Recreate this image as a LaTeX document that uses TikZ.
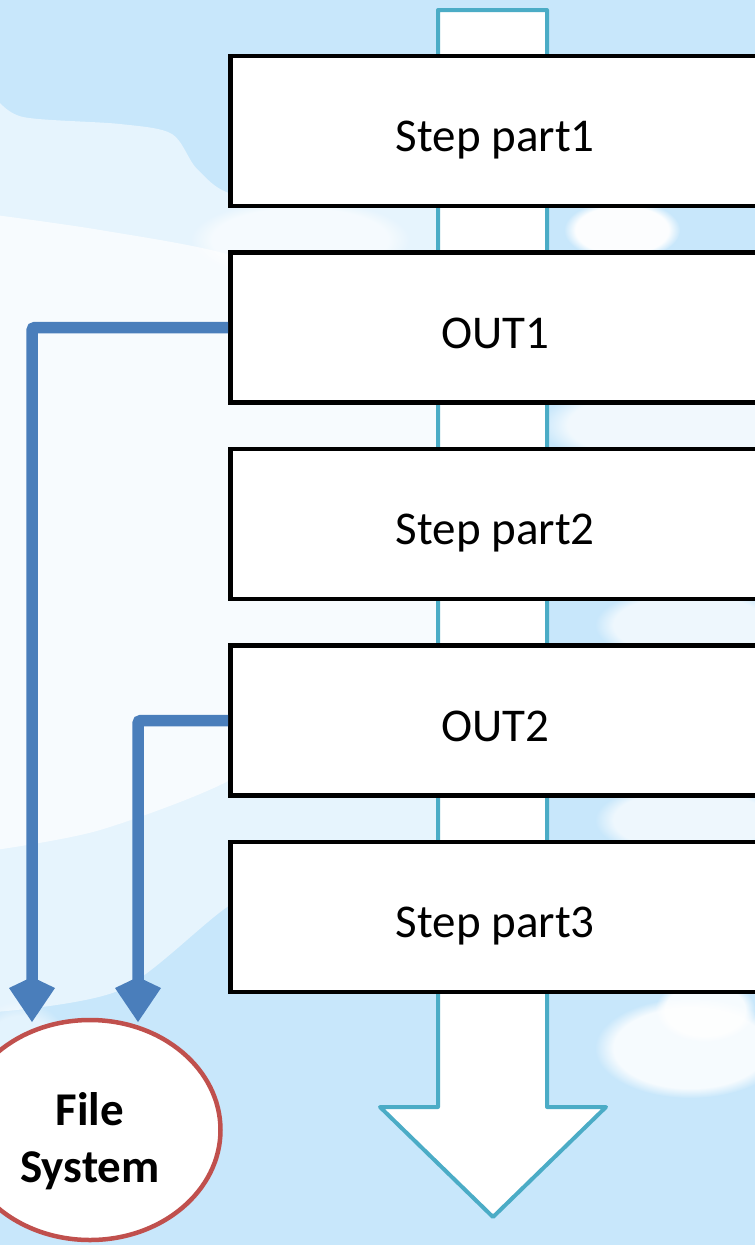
\documentclass[tikz,border=0pt]{standalone}
\usepackage{fontspec}
\setmainfont{Carlito}
\usetikzlibrary{arrows.meta,shapes.geometric,fadings}

\definecolor{sky}{RGB}{200,231,251}
\definecolor{flowteal}{RGB}{75,172,198}
\definecolor{linkblue}{RGB}{74,126,187}
\definecolor{fsred}{RGB}{192,80,77}

\begin{document}
\begin{tikzpicture}[x=1pt,y=-1pt,
  stagebox/.style={draw=black, line width=4.5pt, fill=white,
    minimum width=530pt, minimum height=150pt, anchor=west, inner sep=0pt,
    font=\fontsize{47}{57}\selectfont, text height=41pt, text depth=0pt},
  link/.style={draw=linkblue, line width=11.5pt, rounded corners=3pt,
    -{Kite[length=45pt,width=46pt,inset=11pt,line width=0pt]}},
  puff/.style={fill=white, draw=none, opacity=#1,
    path fading=circle with fuzzy edge 20 percent},
  puff/.default=0.8]

% page and sky
\useasboundingbox (0,0) rectangle (755,1245);
\clip (0,0) rectangle (755,1245);
\fill[sky] (0,0) rectangle (755,1245);

% clouds on the left
\fill[white, opacity=0.55]
  plot[smooth, tension=0.5] coordinates {(-5,97) (23,117) (120,124) (172,134)
    (198,170) (240,196) (370,201) (450,210)}
  -- (450,860)
  -- plot[smooth, tension=0.5] coordinates {(450,860) (330,850) (230,905)
    (120,990) (-5,1012)}
  -- cycle;
\fill[white, opacity=0.7]
  plot[smooth, tension=0.5] coordinates {(-5,215) (100,230) (230,255)
    (330,300) (450,330)}
  -- (450,690)
  -- plot[smooth, tension=0.5] coordinates {(450,690) (300,720) (230,780)
    (100,830) (-5,850)}
  -- cycle;
\fill[puff=0.6] (300,240) ellipse [x radius=110, y radius=40];
\fill[puff=0.5] (20,1080) ellipse [x radius=60, y radius=80];

% clouds on the right
\fill[puff=0.95] (622,230) ellipse [x radius=58, y radius=30];
\fill[puff=0.75] (680,425) ellipse [x radius=140, y radius=45];
\fill[puff=0.7]  (690,625) ellipse [x radius=95, y radius=38];
\fill[puff=0.7]  (690,820) ellipse [x radius=95, y radius=38];
\fill[puff=0.85] (690,1048) ellipse [x radius=95, y radius=50];
\fill[puff=0.85] (705,1010) ellipse [x radius=50, y radius=32];

% process flow arrow behind the stages
\draw[flowteal, line width=4pt, fill=white, line join=round]
  (438,10) -- (547,10) -- (547,1107) -- (606,1107) -- (493,1217)
  -- (380,1107) -- (438,1107) -- cycle;

% stages
\node[stagebox] (s1) at (228,131)   {Step part1};
\node[stagebox] (o1) at (228,327.5) {OUT1};
\node[stagebox] (s2) at (228,524)   {Step part2};
\node[stagebox] (o2) at (228,720.5) {OUT2};
\node[stagebox] (s3) at (228,917)   {Step part3};

% file system
\node[draw=fsred, line width=4.5pt, fill=white, ellipse, inner sep=0pt,
  minimum width=261pt, minimum height=220pt] (fs) at (90,1130) {};
\node[font=\bfseries\fontsize{47}{57}\selectfont, align=center, inner sep=0pt]
  (fslabel) at (90,1141) {File\\System};

% outputs written to the file system
\coordinate (in1) at (32,1022);
\coordinate (in2) at (138,1022);
\draw[link] (o1.west) -| (in1);
\draw[link] (o2.west) -| (in2);
\end{tikzpicture}
\end{document}
